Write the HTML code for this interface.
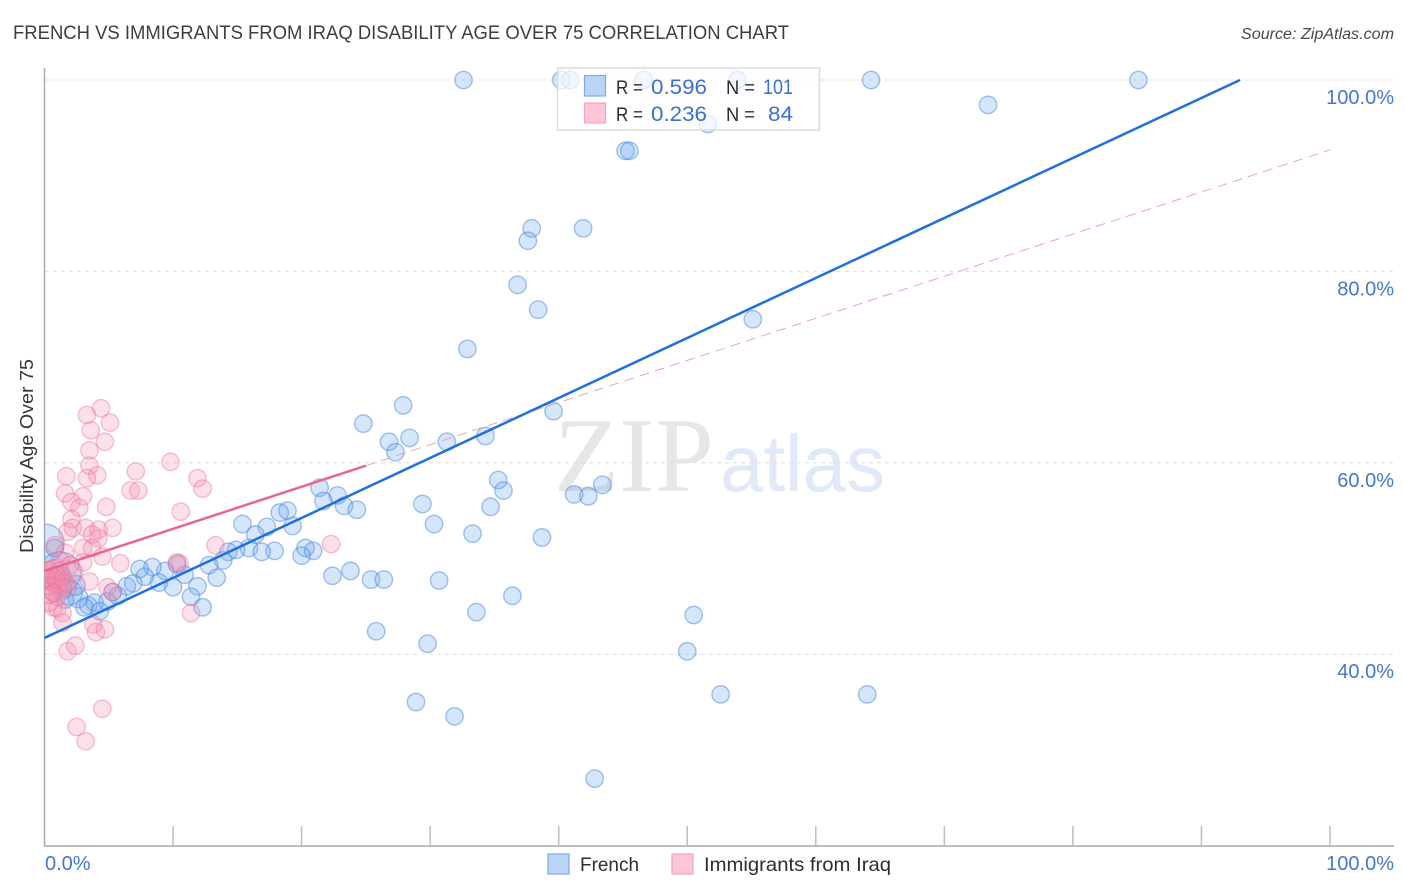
<!DOCTYPE html>
<html lang="en">
<head>
<meta charset="utf-8">
<title>French vs Immigrants from Iraq Disability Age Over 75 Correlation Chart</title>
<style>
html,body{margin:0;padding:0;background:#fff;}
svg{display:block;font-family:"Liberation Sans",sans-serif;}
</style>
</head>
<body>
<svg id="chart" xmlns="http://www.w3.org/2000/svg" width="1406" height="892" viewBox="0 0 1406 892">
  <defs><clipPath id="plot-clip"><rect x="44.5" y="60" width="1350" height="786"/></clipPath></defs>
  <rect x="0" y="0" width="1406" height="892" fill="#ffffff"/>
  <text x="13" y="39" font-size="19" fill="#3a3e44" textLength="776" lengthAdjust="spacingAndGlyphs">FRENCH VS IMMIGRANTS FROM IRAQ DISABILITY AGE OVER 75 CORRELATION CHART</text>
  <text x="1394" y="39" font-size="15.5" font-style="italic" fill="#44484d" text-anchor="end" textLength="153" lengthAdjust="spacingAndGlyphs">Source: ZipAtlas.com</text>
  <text transform="translate(33,553) rotate(-90)" font-size="18" fill="#33373c" textLength="194" lengthAdjust="spacingAndGlyphs">Disability Age Over 75</text>
  <g>
    <text x="554" y="491" font-family="'Liberation Serif',serif" font-size="106" fill="#e6e6e6" textLength="160" lengthAdjust="spacingAndGlyphs">ZIP</text>
    <text x="720" y="491" font-size="80" fill="#dfe9f7" textLength="165" lengthAdjust="spacingAndGlyphs">atlas</text>
  </g>
  <g id="grid"></g>
  <g id="axes"></g>
  <g id="dots" clip-path="url(#plot-clip)"></g>
  <g id="trends"></g>
  <g id="tick-labels"></g>
  <g>
    <rect x="557.5" y="68" width="262" height="62" fill="#ffffff" fill-opacity="0.7" stroke="#d9dbde" stroke-width="1.5"/>
    <rect x="584.5" y="75.5" width="21" height="20.5" fill="#b9d4f6" stroke="#7fa9e3" stroke-width="1.2"/>
    <rect x="584.5" y="103" width="21" height="20" fill="#fcc6d8" stroke="#f2a3bd" stroke-width="1.2"/>
    <g font-size="21">
      <text x="616" y="94" fill="#2a2e33" font-size="19.5" textLength="27" lengthAdjust="spacingAndGlyphs">R =</text>
      <text x="651" y="94" fill="#3b6fd4" textLength="56" lengthAdjust="spacingAndGlyphs">0.596</text>
      <text x="726" y="94" fill="#2a2e33" font-size="19.5" textLength="29" lengthAdjust="spacingAndGlyphs">N =</text>
      <text x="763" y="94" fill="#3b6fd4" textLength="30" lengthAdjust="spacingAndGlyphs">101</text>
      <text x="616" y="121" fill="#2a2e33" font-size="19.5" textLength="27" lengthAdjust="spacingAndGlyphs">R =</text>
      <text x="651" y="121" fill="#3b6fd4" textLength="56" lengthAdjust="spacingAndGlyphs">0.236</text>
      <text x="726" y="121" fill="#2a2e33" font-size="19.5" textLength="29" lengthAdjust="spacingAndGlyphs">N =</text>
      <text x="768" y="121" fill="#3b6fd4" textLength="25" lengthAdjust="spacingAndGlyphs">84</text>
    </g>
  </g>
  <g>
    <rect x="548" y="854" width="21" height="20" fill="#b9d4f6" stroke="#7fa9e3" stroke-width="1.2"/>
    <text x="580" y="871" font-size="19.5" fill="#2a2e33" textLength="59" lengthAdjust="spacingAndGlyphs">French</text>
    <rect x="672" y="854" width="21" height="20" fill="#fcc6d8" stroke="#f2a3bd" stroke-width="1.2"/>
    <text x="704" y="871" font-size="19.5" fill="#2a2e33" textLength="187" lengthAdjust="spacingAndGlyphs">Immigrants from Iraq</text>
  </g>
</svg>
<script>
var yGridValues = [100, 80, 60, 40];
var yTickLabels = ["100.0%", "80.0%", "60.0%", "40.0%"];
var xTickValues = [10, 20, 30, 40, 50, 60, 70, 80, 90, 100];
var xEndValues = [0, 100];
var xEndLabels = ["0.0%", "100.0%"];

var frenchX = [0.05,1.2,2.0,2.6,2.4,1.2,
32.6,40.2,40.9,46.6,53.9,64.3,85.1,73.4,51.6,45.2,45.5,37.9,41.9,37.6,36.8,38.4,55.1,32.9,27.9,24.8,39.6,26.8,28.4,31.3,34.3,27.3,35.3,35.7,41.2,42.3,43.4,29.4,34.7,30.3,33.3,38.7,21.4,22.8,21.7,23.3,24.3,
18.9,18.3,17.3,19.3,15.4,16.4,15.9,17.9,16.9,20.3,20.9,20.0,22.4,23.8,25.4,26.4,30.7,33.6,36.4,25.8,29.8,50.5,50.0,52.6,64.0,28.9,31.9,42.8,
14.3,14.9,13.9,12.8,13.4,11.9,11.4,12.3,10.9,10.3,9.4,10.0,8.4,8.9,7.4,7.8,6.9,6.4,
0.8,3.4,3.9,3.1,4.3,4.9,5.3,5.7,1.4,1.6];
var frenchY = [51.6,48.5,46.4,45.9,47.2,48.1,
100,100,100,100,100,100,100,97.4,95.4,92.6,92.6,84.5,84.5,83.2,78.6,76.0,75.0,71.9,66.0,64.1,65.4,62.2,62.6,62.2,62.8,61.1,58.2,57.1,56.7,56.5,57.7,55.7,55.4,53.6,52.6,52.2,57.4,56.6,56.0,55.5,55.1,
55.0,54.8,53.3,53.4,53.6,52.5,51.1,50.8,50.7,51.1,50.8,50.3,48.2,48.7,47.8,47.8,47.7,44.4,46.1,42.4,41.1,44.1,40.3,35.8,35.8,35.0,33.5,27.0,
50.7,50.9,49.8,49.3,48.0,47.1,46.0,44.9,48.3,49.4,48.7,47.0,49.1,47.5,48.9,48.1,47.4,47.1,
51.1,45.1,45.4,44.9,44.5,45.5,46.5,46.1,46.7,45.7];
var frenchWeight = [4.8,5.8,1.9,1.3,1.3,1.6];

var iraqX = [4.4,3.3,5.1,3.6,4.7,3.5,3.5,4.1,3.3,7.1,9.8,11.9,12.3,6.7,7.3,1.7,1.6,3.0,2.1,2.7,4.8,10.6,2.1,1.8,2.2,3.2,4.2,5.3,4.2,3.7,3.0,3.7,0.8,1.6,4.5,5.9,3.0,1.2,10.5,10.3,13.3,22.3,3.5,4.9,5.3,0.7,1.0,1.4,1.4,0.4,1.0,3.8,4.0,4.7,11.4,1.8,2.4,4.5,2.5,3.2,
0.2,0.4,0.6,0.3,0.7,0.9,1.1,0.5,1.3,1.5,0.8,1.0,0.2,1.7,0.6,0.4,1.2,1.4,2.0,2.3,0.9,0.3,0.7,1.8];
var iraqY = [65.7,65.0,64.2,63.4,62.2,61.3,59.7,58.7,58.4,59.1,60.1,58.4,57.3,57.1,57.1,58.6,56.8,56.5,55.9,55.3,55.4,54.9,54.1,52.8,53.2,53.2,53.0,53.2,52.1,52.5,51.1,51.1,51.4,50.6,50.2,49.5,49.6,49.8,49.5,49.6,51.4,51.5,47.6,47.0,46.5,44.9,44.8,44.3,43.3,45.4,46.0,43.1,42.3,42.6,44.3,40.3,40.9,34.3,32.4,30.9,
48.5,47.8,48.9,47.1,47.5,48.3,47.4,46.6,48.1,47.6,49.0,46.9,47.9,47.4,48.2,46.2,48.7,47.0,49.3,48.6,47.8,48.8,46.4,46.9];

var frenchTrendX = [0, 93];
var frenchTrendY = [41.7, 100];
var iraqTrendX = [0, 25, 100];
var iraqTrendY = [48.7, 59.7, 92.7];

var SVG_NS = "http://www.w3.org/2000/svg";
function xScale(v) { return 44.5 + v * 12.855; }
function yScale(v) { return 80 + (100 - v) * 9.57; }
function make(parentId, tag) {
  var el = document.createElementNS(SVG_NS, tag);
  document.getElementById(parentId).appendChild(el);
  return el;
}

yGridValues.forEach(function (v, i) {
  var line = make("grid", "line");
  
  
  line.setAttribute("x1", 45);
  line.setAttribute("x2", 1394);
  line.setAttribute("y1", yScale(v));
  line.setAttribute("y2", yScale(v));
  line.setAttribute("stroke", "#dddddd");
  line.setAttribute("stroke-width", "1");
  line.setAttribute("stroke-dasharray", "4 4");
  var label = make("tick-labels", "text");
  
  
  label.setAttribute("x", 1394);
  label.setAttribute("y", yScale(v) + 24);
  label.setAttribute("text-anchor", "end");
  label.setAttribute("font-size", "20");
  label.setAttribute("fill", "#4476d6");
  label.textContent = yTickLabels[i];
});

var yAxis = make("axes", "line");


yAxis.setAttribute("x1", 44.5);
yAxis.setAttribute("x2", 44.5);
yAxis.setAttribute("y1", 68);
yAxis.setAttribute("y2", 846);
yAxis.setAttribute("stroke", "#a9a9a9");
yAxis.setAttribute("stroke-width", "1.5");

var xAxis = make("axes", "line");


xAxis.setAttribute("x1", 44);
xAxis.setAttribute("x2", 1394);
xAxis.setAttribute("y1", 846);
xAxis.setAttribute("y2", 846);
xAxis.setAttribute("stroke", "#a9a9a9");
xAxis.setAttribute("stroke-width", "1.5");

xTickValues.forEach(function (v) {
  var tick = make("axes", "line");
  
  
  tick.setAttribute("x1", xScale(v));
  tick.setAttribute("x2", xScale(v));
  tick.setAttribute("y1", 826);
  tick.setAttribute("y2", 846);
  tick.setAttribute("stroke", "#bdbdbd");
  tick.setAttribute("stroke-width", "1.5");
});

xEndValues.forEach(function (v, i) {
  var label = make("tick-labels", "text");
  
  
  label.setAttribute("x", i === 0 ? 45 : 1394);
  label.setAttribute("y", 870);
  label.setAttribute("text-anchor", i === 0 ? "start" : "end");
  label.setAttribute("font-size", "20");
  label.setAttribute("fill", "#4476d6");
  label.textContent = xEndLabels[i];
});

frenchX.forEach(function (v, i) {
  var dot = make("dots", "circle");
  
  
  dot.setAttribute("cx", xScale(v));
  dot.setAttribute("cy", yScale(frenchY[i]));
  dot.setAttribute("r", 8.7 * Math.sqrt(frenchWeight[i] || 1));
  dot.setAttribute("fill", "#6ca4ee");
  dot.setAttribute("fill-opacity", "0.28");
  dot.setAttribute("stroke", "#4a88e0");
  dot.setAttribute("stroke-opacity", "0.5");
  dot.setAttribute("stroke-width", "1.4");
});

iraqX.forEach(function (v, i) {
  var dot = make("dots", "circle");
  
  
  dot.setAttribute("cx", xScale(v));
  dot.setAttribute("cy", yScale(iraqY[i]));
  dot.setAttribute("r", 8.7);
  dot.setAttribute("fill", "#f48fb0");
  dot.setAttribute("fill-opacity", "0.28");
  dot.setAttribute("stroke", "#ea6f98");
  dot.setAttribute("stroke-opacity", "0.42");
  dot.setAttribute("stroke-width", "1.4");
});

var iraqDash = make("trends", "line");


iraqDash.setAttribute("x1", xScale(iraqTrendX[1]));
iraqDash.setAttribute("y1", yScale(iraqTrendY[1]));
iraqDash.setAttribute("x2", xScale(iraqTrendX[2]));
iraqDash.setAttribute("y2", yScale(iraqTrendY[2]));
iraqDash.setAttribute("stroke", "#ec9ab2");
iraqDash.setAttribute("stroke-width", "0.9");
iraqDash.setAttribute("stroke-dasharray", "10 6");

var iraqSolid = make("trends", "line");


iraqSolid.setAttribute("x1", xScale(iraqTrendX[0]));
iraqSolid.setAttribute("y1", yScale(iraqTrendY[0]));
iraqSolid.setAttribute("x2", xScale(iraqTrendX[1]));
iraqSolid.setAttribute("y2", yScale(iraqTrendY[1]));
iraqSolid.setAttribute("stroke", "#ea6491");
iraqSolid.setAttribute("stroke-width", "2.5");

var frenchLine = make("trends", "line");


frenchLine.setAttribute("x1", xScale(frenchTrendX[0]));
frenchLine.setAttribute("y1", yScale(frenchTrendY[0]));
frenchLine.setAttribute("x2", xScale(frenchTrendX[1]));
frenchLine.setAttribute("y2", yScale(frenchTrendY[1]));
frenchLine.setAttribute("stroke", "#1f6fdc");
frenchLine.setAttribute("stroke-width", "2.5");
</script>
</body>
</html>
